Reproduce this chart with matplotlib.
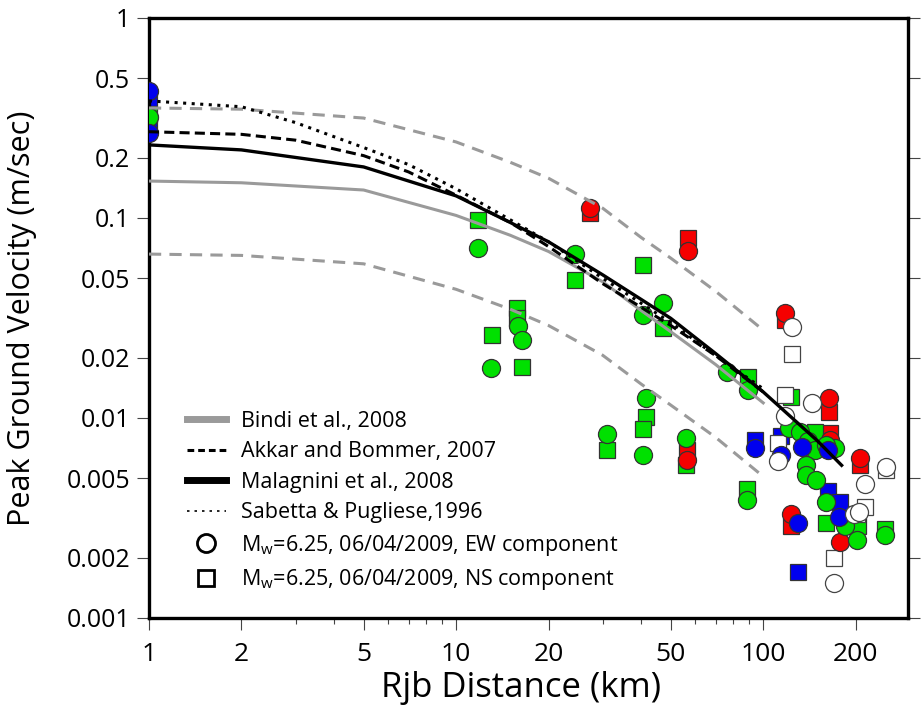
import numpy as np
import matplotlib.pyplot as plt
import matplotlib.ticker as mtick
from matplotlib.lines import Line2D

plt.rcParams['font.family'] = ['Open Sans', 'DejaVu Sans']

# GMPE curves (PGV in m/s vs Rjb in km)
bindi_x = [1, 2, 5, 10, 15, 20, 30, 40, 50, 70, 100]
bindi_med = [0.153, 0.150, 0.138, 0.103, 0.082, 0.068, 0.048, 0.0345, 0.027, 0.0185, 0.0119]
bindi_up = [0.355, 0.350, 0.316, 0.240, 0.190, 0.158, 0.112, 0.080, 0.063, 0.043, 0.0275]
bindi_lo = [0.066, 0.065, 0.059, 0.044, 0.035, 0.029, 0.0206, 0.0148, 0.0116, 0.0080, 0.0051]

akkar_x = [1, 2, 3, 5, 7, 10, 15, 20, 30, 50, 70, 100]
akkar_y = [0.270, 0.262, 0.245, 0.205, 0.170, 0.130, 0.095, 0.072, 0.047, 0.029, 0.0205, 0.0135]

sabetta_x = [1, 2, 3, 5, 7, 10, 15, 20, 30, 50, 70, 100]
sabetta_y = [0.385, 0.360, 0.300, 0.225, 0.185, 0.140, 0.098, 0.076, 0.050, 0.030, 0.0205, 0.014]

malagnini_x = [1, 2, 5, 10, 15, 20, 30, 50, 70, 100, 150, 180]
malagnini_y = [0.232, 0.219, 0.180, 0.129, 0.095, 0.076, 0.052, 0.0315, 0.021, 0.0135, 0.0077, 0.0058]

# recorded data, EW = circles, NS = squares
red_ew_x = [27.3, 57, 56.5, 118, 164, 165, 207, 123, 178]
red_ew_y = [0.112, 0.068, 0.0062, 0.0335, 0.0126, 0.0078, 0.0063, 0.0033, 0.0024]
red_ns_x = [27.3, 57, 56.5, 118, 164, 165, 207, 123]
red_ns_y = [0.106, 0.079, 0.0069, 0.031, 0.0107, 0.0084, 0.0058, 0.0029]

green_ew_x = [1, 11.8, 24.4, 47.2, 40.7, 76.3, 15.9, 16.4, 13.0, 31.0, 41.6, 40.7, 56.1, 88.7, 89.4,
              121, 132, 140, 147, 171, 160, 138, 138, 149, 160, 184, 202, 250]
green_ew_y = [0.32, 0.0708, 0.066, 0.0376, 0.0327, 0.017, 0.0288, 0.0246, 0.0178, 0.0083, 0.0126, 0.0065,
              0.0079, 0.0039, 0.0138, 0.0089, 0.0085, 0.0077, 0.0069, 0.0071, 0.0073, 0.0058, 0.0052,
              0.0049, 0.0038, 0.0029, 0.00245, 0.0026]
green_ns_x = [1, 11.8, 24.4, 40.7, 47.2, 15.8, 15.8, 13.1, 16.4, 31.0, 41.6, 40.7, 56.1, 88.7, 89.4,
              123, 147, 160, 203, 250]
green_ns_y = [0.33, 0.0977, 0.049, 0.0582, 0.0282, 0.0355, 0.0316, 0.026, 0.018, 0.0069, 0.0101, 0.0088,
              0.0058, 0.0044, 0.016, 0.0128, 0.0085, 0.0030, 0.0029, 0.0028]

blue_ew_x = [1, 1, 94, 114, 134, 162, 130, 176]
blue_ew_y = [0.43, 0.265, 0.0071, 0.0065, 0.0072, 0.0069, 0.0030, 0.0032]
blue_ns_x = [1, 1, 94, 114, 162, 178, 130]
blue_ns_y = [0.40, 0.285, 0.0078, 0.0081, 0.0043, 0.0038, 0.0017]

white_ew_x = [124, 144, 118, 112, 251, 215, 198, 205, 170]
white_ew_y = [0.0285, 0.0119, 0.0102, 0.0061, 0.0057, 0.0047, 0.0033, 0.0034, 0.0015]
white_ns_x = [124, 118, 112, 251, 215, 202, 170]
white_ns_y = [0.0209, 0.013, 0.0075, 0.0055, 0.0036, 0.0033, 0.0020]

x_ticks = [1, 2, 5, 10, 20, 50, 100, 200]
x_minor = [3, 4, 6, 7, 8, 9, 30, 40, 60, 70, 80, 90]
y_ticks = [1, 0.5, 0.2, 0.1, 0.05, 0.02, 0.01, 0.005, 0.002, 0.001]
y_labels = ["1", "0.5", "0.2", "0.1", "0.05", "0.02", "0.01", "0.005", "0.002", "0.001"]

RED = '#f50000'
GREEN = '#00e000'
BLUE = '#0000ee'
GRAY = '#9a9a9a'

fig = plt.figure(figsize=(9.23, 7.2), dpi=100)
ax = fig.add_axes([0.1614, 0.1417, 0.8223, 0.8333])
ax.set_xscale('log')
ax.set_yscale('log')

# squares under circles, lines on top
for xs, ys, c, ec in [(red_ns_x, red_ns_y, RED, '#333333'),
                      (green_ns_x, green_ns_y, GREEN, '#333333'),
                      (blue_ns_x, blue_ns_y, BLUE, '#333333'),
                      (white_ns_x, white_ns_y, 'white', '#444444')]:
    ax.plot(xs, ys, ls='none', marker='s', ms=11.5, mfc=c, mec=ec, mew=0.9, zorder=2)
for xs, ys, c, ec in [(red_ew_x, red_ew_y, RED, '#333333'),
                      (green_ew_x, green_ew_y, GREEN, '#333333'),
                      (blue_ew_x, blue_ew_y, BLUE, '#333333'),
                      (white_ew_x, white_ew_y, 'white', '#444444')]:
    ax.plot(xs, ys, ls='none', marker='o', ms=13, mfc=c, mec=ec, mew=0.9, zorder=3)

ax.plot(bindi_x, bindi_up, color=GRAY, lw=2.2, dashes=(4, 2.7), zorder=4)
ax.plot(bindi_x, bindi_lo, color=GRAY, lw=2.2, dashes=(4, 2.7), zorder=4)
ax.plot(bindi_x, bindi_med, color=GRAY, lw=2.2, zorder=4)
ax.plot(sabetta_x, sabetta_y, color='black', lw=2.2, dashes=(1, 1.8), zorder=5)
ax.plot(akkar_x, akkar_y, color='black', lw=2.2, dashes=(3.3, 1.7), zorder=5)
ax.plot(malagnini_x, malagnini_y, color='black', lw=2.4, zorder=5)

ax.set_xlim(1, 296)
ax.set_ylim(0.001, 1)

ax.xaxis.set_major_locator(mtick.FixedLocator(x_ticks))
ax.xaxis.set_major_formatter(mtick.FixedFormatter([str(t) for t in x_ticks]))
ax.xaxis.set_minor_locator(mtick.FixedLocator(x_minor))
ax.xaxis.set_minor_formatter(mtick.NullFormatter())
ax.yaxis.set_major_locator(mtick.FixedLocator(y_ticks))
ax.yaxis.set_major_formatter(mtick.FixedFormatter(y_labels))
ax.yaxis.set_minor_locator(mtick.NullLocator())

ax.tick_params(axis='both', which='major', direction='out', length=8.5, width=0.8,
               color='#444444', labelsize=18, pad=5)
ax.tick_params(axis='x', which='major', pad=9)
ax.tick_params(axis='x', which='minor', direction='out', length=4.5, width=0.8, color='#444444')
ax.tick_params(axis='y', which='major', right=True)
for lab in ax.get_xticklabels():
    lab.set_family(['Liberation Sans Narrow', 'Open Sans'])
    lab.set_fontsize(19)

for sp in ax.spines.values():
    sp.set_linewidth(2.4)
    sp.set_color('black')

ax.set_ylabel("Peak Ground Velocity (m/sec)", fontsize=22)
ax.yaxis.set_label_coords(-0.148, 0.5)
ax.set_xlabel("Rjb Distance (km)", fontsize=25)
ax.xaxis.set_label_coords(0.49, -0.088)

handles = [Line2D([], [], color=GRAY, lw=5),
           Line2D([], [], color='black', lw=2.2, dashes=(2.2, 1.3)),
           Line2D([], [], color='black', lw=5),
           Line2D([], [], color='black', lw=1.2, dashes=(1.5, 3)),
           Line2D([], [], ls='none', marker='o', ms=13, mfc='white', mec='black', mew=2),
           Line2D([], [], ls='none', marker='s', ms=11, mfc='white', mec='black', mew=2)]
labels = ["Bindi et al., 2008",
          "Akkar and Bommer, 2007",
          "Malagnini et al., 2008",
          "Sabetta & Pugliese,1996",
          r"M$_{\mathregular{w}}$=6.25, 06/04/2009, EW component",
          r"M$_{\mathregular{w}}$=6.25, 06/04/2009, NS component"]
ax.legend(handles, labels, loc='upper left', bbox_to_anchor=(0.05, 0.345), frameon=False,
          fontsize=15.5, handlelength=1.8, handletextpad=0.7, labelspacing=0.44,
          borderpad=0, borderaxespad=0)

fig.savefig('out.png', dpi=100)
